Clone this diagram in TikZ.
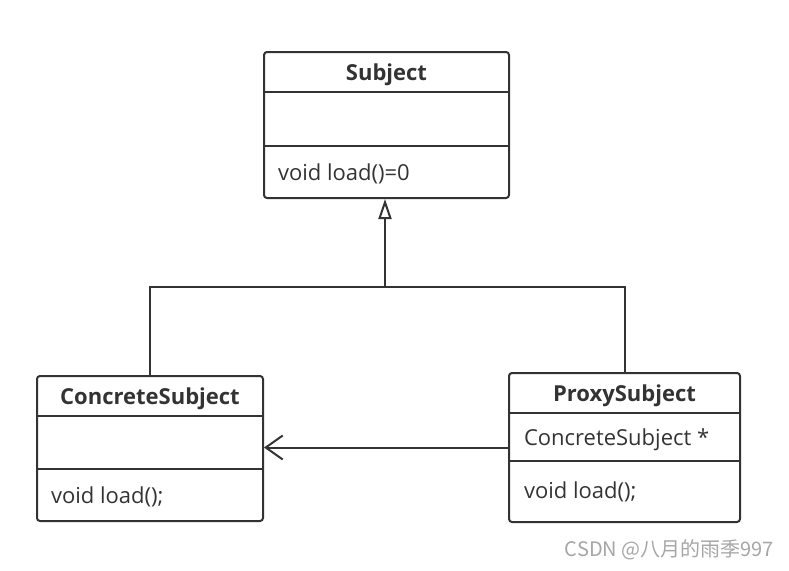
\documentclass[tikz,border=0pt]{standalone}
\usepackage{fontspec}
\setmainfont{Open Sans}
\newfontfamily\cjk{Noto Sans CJK SC}
\usetikzlibrary{arrows.meta}
\definecolor{umlline}{HTML}{333333}

\begin{document}
\begin{tikzpicture}[x=1pt, y=-1pt, every node/.style={inner sep=0, text=umlline, font=\fontsize{22}{26}\selectfont}, every path/.style={draw=umlline, line width=2pt}, classbox/.style={draw=umlline, line width=2pt, rounded corners=3pt}]
				\useasboundingbox[draw=none] (0,0) rectangle (789,570);
				
				\node[classbox, minimum width=245pt, minimum height=146pt] (s) at (386.5,125){};
				\node[classbox, minimum width=226pt, minimum height=145pt] (c) at (150,448.5){};
				\node[classbox, minimum width=231pt, minimum height=149pt] (p) at (624.5,447.5){};
				
				\path (s.west |- 0,92) edge (s.east |- 0,92);
				\path (s.west |- 0,146) edge (s.east |- 0,146);
				\path (c.west |- 0,416) edge (c.east |- 0,416);
				\path (c.west |- 0,469) edge (c.east |- 0,469);
				\path (p.west |- 0,413) edge (p.east |- 0,413);
				\path (p.west |- 0,461) edge (p.east |- 0,461);
				
				\coordinate (j) at (385,287);
				\draw (c.north) |- (j);
				\draw (p.north) |- (j);
				\draw[-{Triangle[open, length=20pt, width=13pt]}] (j) -- (j |- s.south);
				\draw[-{Straight Barb[length=17pt, width=24pt]}] (p.west) -- (p.west -| c.east);
				
				\node[anchor=base, font=\fontsize{22}{26}\selectfont\bfseries] (s1) at (386.5,80){Subject};
				\node[anchor=base west] (s2) at (277,180){void load()=0};
				\node[anchor=base, font=\fontsize{22}{26}\selectfont\bfseries] (c1) at (150,404){ConcreteSubject};
				\node[anchor=base west] (c2) at (50,503){void load();};
				\node[anchor=base, font=\fontsize{22}{26}\selectfont\bfseries] (p1) at (624.5,401){ProxySubject};
				\node[anchor=base west] (p2) at (523,445){ConcreteSubject *};
				\node[anchor=base west] (p3) at (523,498){void load();};
				
				\node[anchor=base east, text=black!35, font=\cjk\fontsize{20}{23}\selectfont] (w) at (775,556){CSDN @八月的雨季997};
\end{tikzpicture}
\end{document}
